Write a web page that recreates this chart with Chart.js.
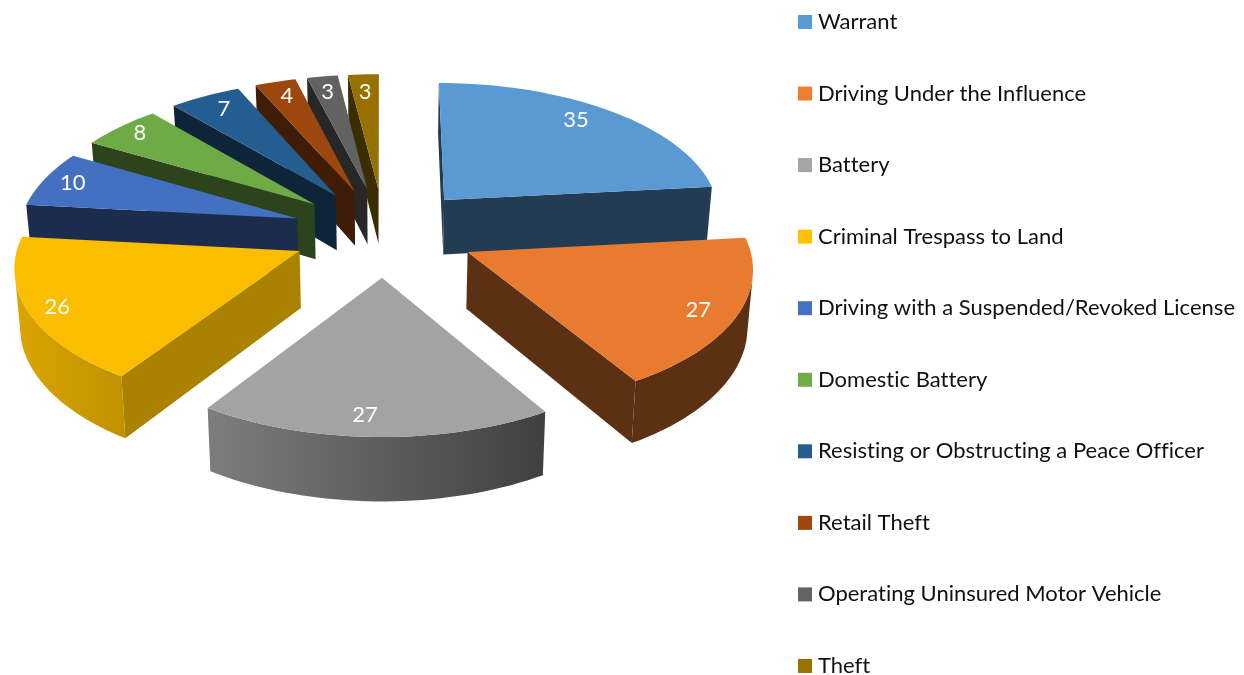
<!DOCTYPE html>
<html>
<head>
<meta charset="utf-8">
<title>Arrests by charge</title>
<style>
  html, body { margin: 0; padding: 0; background: #fff; overflow: hidden; }
  canvas { display: block; }
</style>
<script src="https://cdn.jsdelivr.net/npm/chart.js@4"></script>
</head>
<body>
<canvas id="pie3d" width="1244" height="675"></canvas>
<script>
const categories = [
  "Warrant",
  "Driving Under the Influence",
  "Battery",
  "Criminal Trespass to Land",
  "Driving with a Suspended/Revoked License",
  "Domestic Battery",
  "Resisting or Obstructing a Peace Officer",
  "Retail Theft",
  "Operating Uninsured Motor Vehicle",
  "Theft"
];
const counts = [35, 27, 27, 26, 10, 8, 7, 4, 3, 3];
const colors = ["#5B9BD5", "#ED7D31", "#A5A5A5", "#FFC000", "#4472C4", "#70AD47", "#255E91", "#9E480E", "#636363", "#997300"];

const FONT = "Lato, 'Open Sans', sans-serif";

// look of the tilted pie
const tilt = 0.481;      // vertical squash of the ground plane
const persp = 0.00035;   // things nearer the viewer get bigger
const depth = 56;        // wall height
const taper = 0.015;     // walls narrow a bit towards the floor

// Excel does not centre its data labels exactly, small pixel corrections per label
const labelNudge = [[-14, -2], [-2, 2], [-11, 1], [-8, 3], [-4, -1], [-4, -4], [3, 1], [2, 1], [0, 2], [0, 4]];

function project(cx, cy, u, v, d) {
  const s = 1 / (1 - persp * v);
  return [cx + u * s * (1 - taper * d), cy + tilt * v * s + depth * d * s];
}

function shade(hex, f) {
  const n = parseInt(hex.slice(1), 16);
  return "rgb(" + [(n >> 16) & 255, (n >> 8) & 255, n & 255].map(c => Math.round(c * f)).join(",") + ")";
}

// brightness of the outer wall, by angle clockwise from the back of the pie
function wallLight(t) {
  const deg = t * 180 / Math.PI;
  if (deg < 150) return 0.39;
  if (deg < 214) return 0.39 + (deg - 150) / 64 * 0.37;
  return 0.76 + (deg - 214) / 62 * 0.14;
}

function poly(ctx, pts, fill) {
  ctx.beginPath();
  pts.forEach((p, i) => i ? ctx.lineTo(p[0], p[1]) : ctx.moveTo(p[0], p[1]));
  ctx.closePath();
  ctx.fillStyle = fill;
  ctx.fill();
}

// signed screen area, used to drop walls that face away from the viewer
function area(pts) {
  let sum = 0;
  pts.forEach((p, i) => {
    const q = pts[(i + 1) % pts.length];
    sum += p[0] * q[1] - q[0] * p[1];
  });
  return sum;
}

function sliceGeom(arc) {
  const p = arc.getProps(["x", "y", "startAngle", "endAngle", "outerRadius"], true);
  const a0 = p.startAngle + Math.PI / 2;
  const a1 = p.endAngle + Math.PI / 2;
  const mid = (a0 + a1) / 2;
  const off = arc.options.offset;
  const u0 = off * Math.sin(mid);
  const v0 = -off * Math.cos(mid);
  const at = (t, r, d) => project(p.x, p.y, u0 + r * Math.sin(t), v0 - r * Math.cos(t), d);
  return { a0, a1, mid, r: p.outerRadius, at };
}

const pie3d = {
  id: "pie3d",
  beforeDatasetDraw(chart, args) {
    const ctx = chart.ctx;
    const arcs = args.meta.data.map((arc, i) => ({ g: sliceGeom(arc), color: colors[i] }));
    arcs.sort((a, b) => Math.cos(b.g.mid) - Math.cos(a.g.mid));
    arcs.forEach(({ g, color }) => {
      const n = Math.max(2, Math.ceil((g.a1 - g.a0) / 0.03));
      const angles = [];
      for (let i = 0; i <= n; i++) angles.push(g.a0 + (g.a1 - g.a0) * i / n);

      // the two cut faces
      const cut = t => [g.at(t, 0, 0), g.at(t, g.r, 0), g.at(t, g.r, 1), g.at(t, 0, 1)];
      const startNormal = (g.a0 - Math.PI / 2) * 180 / Math.PI;
      const startLight = startNormal > 90 && startNormal < 150 ? 0.67 : 0.39;
      if (area(cut(g.a0)) < 0) poly(ctx, cut(g.a0), shade(color, startLight));
      if (area(cut(g.a1)) > 0) poly(ctx, cut(g.a1), shade(color, 0.39));

      // outer wall, only the stretch that faces us
      const seen = angles.filter((t, i) => {
        const t2 = i < n ? angles[i + 1] : t;
        const t1 = i < n ? t : angles[i - 1];
        const face = area([g.at(t1, g.r, 0), g.at(t2, g.r, 0), g.at(t2, g.r, 1), g.at(t1, g.r, 1)]);
        return face < 0;
      });
      if (seen.length > 1) {
        const upper = seen.map(t => g.at(t, g.r, 0));
        const lower = seen.map(t => g.at(t, g.r, 1)).reverse();
        const grad = ctx.createLinearGradient(upper[0][0], 0, upper[upper.length - 1][0], 0);
        grad.addColorStop(0, shade(color, wallLight(seen[0])));
        grad.addColorStop(1, shade(color, wallLight(seen[seen.length - 1])));
        poly(ctx, upper.concat(lower), grad);
      }

      // top face
      poly(ctx, [g.at(0, 0, 0)].concat(angles.map(t => g.at(t, g.r, 0))), shade(color, 0.985));
    });
    return false;
  },
  afterDatasetsDraw(chart) {
    const ctx = chart.ctx;
    ctx.save();
    ctx.letterSpacing = "0.01px";
    ctx.fillStyle = "#fff";
    ctx.font = "22px " + FONT;
    ctx.textAlign = "center";
    ctx.textBaseline = "middle";
    chart.getDatasetMeta(0).data.forEach((arc, i) => {
      const g = sliceGeom(arc);
      const pt = g.at(g.mid, g.r * 0.87, 0);
      ctx.fillText(String(counts[i]), pt[0] + labelNudge[i][0], pt[1] + labelNudge[i][1]);
    });
    ctx.restore();
  },
  afterDraw(chart) {
    // Excel style legend column down the right side
    const ctx = chart.ctx;
    ctx.save();
    ctx.letterSpacing = "0.01px";
    ctx.font = "22px " + FONT;
    ctx.textBaseline = "middle";
    categories.forEach((name, i) => {
      const y = 22 + i * 71.55;
      ctx.fillStyle = colors[i];
      ctx.fillRect(798, y - 7, 14, 14);
      ctx.fillStyle = "#111";
      ctx.fillText(name, 818, y);
    });
    ctx.restore();
  }
};

new Chart(document.getElementById("pie3d"), {
  type: "pie",
  data: {
    labels: categories,
    datasets: [{
      data: counts,
      backgroundColor: colors,
      radius: 279,
      offset: 92,
      hoverOffset: 0,
      borderWidth: 0
    }]
  },
  options: {
    responsive: false,
    animation: false,
    layout: { padding: { right: 476, bottom: 211 } },
    plugins: {
      legend: { display: false },
      tooltip: { enabled: false }
    }
  },
  plugins: [pie3d]
});
</script>
</body>
</html>
